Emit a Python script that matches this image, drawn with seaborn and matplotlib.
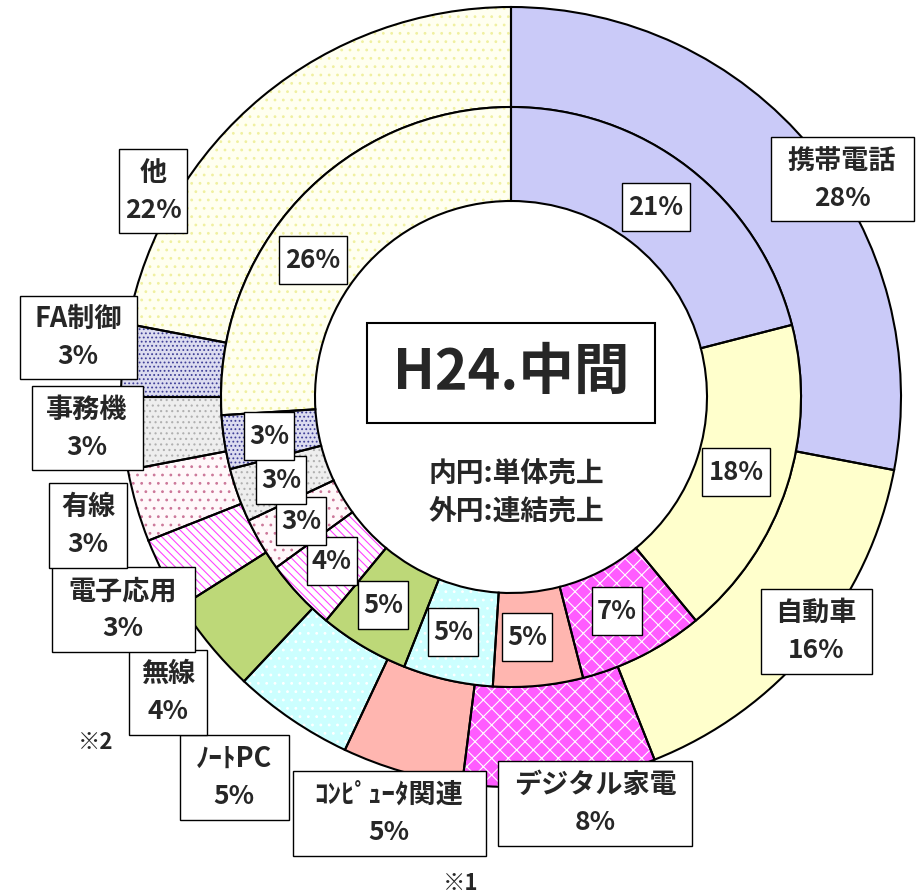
import seaborn as sns
import matplotlib.pyplot as plt
from matplotlib.patches import Rectangle

# Data (clockwise from 12 o'clock)
categories = ["携帯電話", "自動車", "デジタル家電", "ｺﾝﾋﾟｭｰﾀ関連", "ﾉｰﾄPC", "無線",
              "電子応用", "有線", "事務機", "FA制御", "他"]
outer_pct = [28, 16, 8, 5, 5, 4, 3, 3, 3, 3, 22]   # 外円: 連結売上
inner_pct = [21, 18, 7, 5, 5, 5, 4, 3, 3, 3, 26]   # 内円: 単体売上

# Fill styles per category: facecolor, hatch, hatch colour
faces = ["#cacaf8", "#ffffcc", "#ff5cff", "#ffb6b0", "#ccffff", "#bdd878",
         "#ffffff", "#fff8fa", "#eeeeee", "#dcdcf0", "#fffff0"]
hatches = ["", "", "xx", "", "..", "", "\\\\\\\\", "..", "...", "....", ".."]
hatch_cols = ["#cacaf8", "#ffffcc", "#ffffff", "#ffb6b0", "#ffffff", "#bdd878",
              "#ff44ff", "#cc7799", "#b0b0b0", "#404098", "#f0f0a0"]

sns.set_theme(style="white")
plt.rcParams["font.family"] = ["Noto Sans CJK JP", "DejaVu Sans"]
plt.rcParams["hatch.linewidth"] = 0.8

W, H = 918, 896
CX, CY, R = 511, 397, 390.0

fig = plt.figure(figsize=(W / 100, H / 100), dpi=100)
ax = fig.add_axes([0, 0, 1, 1])


def px(x, y):
    return (x - CX) / R, (CY - y) / R


def draw_ring(vals, radius, width):
    w1, _ = ax.pie(vals, radius=radius, startangle=90, counterclock=False,
                   wedgeprops=dict(width=width, linewidth=0))
    for w, fc, h, hc in zip(w1, faces, hatches, hatch_cols):
        w.set_facecolor(fc)
        w.set_edgecolor(hc)
        w.set_hatch(h)
    ax.pie(vals, radius=radius, startangle=90, counterclock=False,
           colors=["none"] * len(vals),
           wedgeprops=dict(width=width, linewidth=1.5, edgecolor="black"))


draw_ring(outer_pct, 1.0, 100 / R)
draw_ring(inner_pct, 290 / R, 94 / R)

ax.set_aspect("auto")
ax.set_xlim(-CX / R, (W - CX) / R)
ax.set_ylim((CY - H) / R, CY / R)
ax.axis("off")


def box(cx, cy, w, h, lw=1.0):
    x0, y0 = px(cx - w / 2, cy + h / 2)
    ax.add_patch(Rectangle((x0, y0), w / R, h / R, facecolor="white",
                           edgecolor="black", linewidth=lw, zorder=5))


# outer labels: centre and box size in pixels
outer_pos = [(842, 179, 143, 84), (816, 631, 111, 85), (595, 803, 194, 85),
             (389, 813, 193, 85), (234, 777, 109, 85), (168, 692, 78, 85),
             (123, 609, 143, 85), (88, 525, 78, 85), (87, 428, 111, 84),
             (78, 337, 117, 83), (153, 191, 68, 84)]
for name, v, (cx, cy, w, h) in zip(categories, outer_pct, outer_pos):
    box(cx, cy, w, h)
    ax.text(*px(cx, cy - 18), name, ha="center", va="center", fontsize=19.5,
            fontweight="bold", zorder=6)
    ax.text(*px(cx, cy + 19), f"{v}%", ha="center", va="center", fontsize=19,
            fontweight="bold", zorder=6)

inner_pos = [(656, 207), (736, 472), (617, 611), (527, 637), (453, 632),
             (383, 605), (332, 561), (301, 521), (281, 480), (269, 436),
             (313, 260)]
for v, (cx, cy) in zip(inner_pct, inner_pos):
    w = 68 if v >= 10 else 50
    box(cx, cy, w, 48)
    ax.text(*px(cx, cy), f"{v}%", ha="center", va="center", fontsize=18.5,
            fontweight="bold", zorder=6)

# centre title
box(511, 373, 288, 100, lw=1.5)
ax.text(*px(511, 373), "H24.中間", ha="center", va="center", fontsize=40,
        fontweight="bold", zorder=6)
ax.text(*px(516, 475), "内円:単体売上", ha="center", va="center", fontsize=20,
        fontweight="bold", zorder=6)
ax.text(*px(516, 512), "外円:連結売上", ha="center", va="center", fontsize=20,
        fontweight="bold", zorder=6)

ax.text(*px(96, 742), "※2", ha="center", va="center", fontsize=16,
        fontweight="bold")
ax.text(*px(461, 883), "※1", ha="center", va="center", fontsize=16,
        fontweight="bold")

fig.savefig("out.png", dpi=100, facecolor="white")
